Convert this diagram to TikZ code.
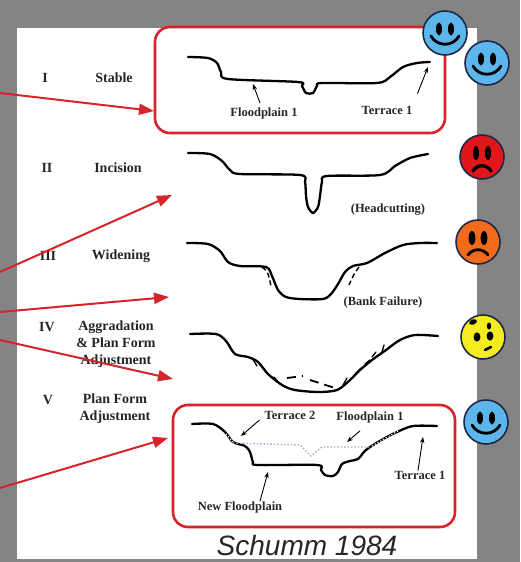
\documentclass[tikz,border=0pt]{standalone}
\usepackage{fontspec}
\setmainfont{Liberation Serif}
\newfontfamily\citefont{Liberation Sans}
\usetikzlibrary{arrows.meta}
\definecolor{frame}{RGB}{214,36,42}
\definecolor{bggray}{RGB}{132,132,132}
\definecolor{facerim}{RGB}{28,40,70}
\definecolor{skyblue}{RGB}{92,182,236}
\definecolor{angryred}{RGB}{224,22,27}
\definecolor{sadorange}{RGB}{242,107,29}
\definecolor{oddyellow}{RGB}{244,236,30}
\definecolor{oldbed}{RGB}{176,160,216}
\begin{document}
\begin{tikzpicture}[x=1pt, y=-1pt,
  redbox/.style={draw=frame, line width=2.6pt, rounded corners=15pt, inner sep=0pt},
  redarrow/.style={draw=frame, line width=2pt, -{Triangle[length=15pt,width=11pt]}},
  lbl/.style={font=\fontsize{14}{17}\selectfont\bfseries, text=black!85, align=center, inner sep=0pt},
  plbl/.style={font=\fontsize{12.5}{14}\selectfont\bfseries, text=black!85, inner sep=0pt},
  bank/.style={line width=2.3pt, line cap=round, line join=round},
  ptr/.style={line width=0.9pt, -{Stealth[length=6pt,width=4.5pt]}},
  face/.style={circle, draw=facerim, line width=1.6pt, minimum size=44pt, inner sep=0pt}]
\useasboundingbox (0,0) rectangle (520,562);
\fill[bggray] (0,0) rectangle (520,562);
\fill[white] (17,28) rectangle (477,559);

% stage names
\node[lbl] (n1) at (45,78) {I};
\node[lbl] (s1) at (114,78) {Stable};
\node[lbl] (n2) at (47,168) {II};
\node[lbl] (s2) at (118,168) {Incision};
\node[lbl] (n3) at (48,256) {III};
\node[lbl] (s3) at (121,256) {Widening};
\node[lbl] (n4) at (47,327) {IV};
\node[lbl, anchor=north] (s4) at (116,321) {Aggradation\\ \& Plan Form\\ Adjustment};
\node[lbl] (n5) at (48,400) {V};
\node[lbl, anchor=north] (s5) at (115,394) {Plan Form\\ Adjustment};

% highlighted stages
\node[redbox, minimum width=290pt, minimum height=106pt] (box1) at (300,80) {};
\node[redbox, minimum width=282pt, minimum height=122pt] (box5) at (314,466) {};

% I  stable
\draw[bank] plot[smooth, tension=0.5] coordinates {(188,57) (208,58) (217,63) (221,72) (228,79)
  (298,82) (302,86) (306,93) (313,93) (317,86) (322,83) (377,83) (390,77) (403,67) (417,63) (430,62)};
\node[plbl] (fp1) at (264,113) {Floodplain 1};
\node[plbl] (tr1) at (387,110) {Terrace 1};
\coordinate (p1) at (253,84);
\coordinate (p2) at (428,67);
\draw[ptr] ([shift={(-4pt,4pt)}]fp1.north) -- (p1);
\draw[ptr] ([shift={(5pt,12pt)}]tr1.north east) -- (p2);

% II  incision
\draw[bank] plot[smooth, tension=0.5] coordinates {(188,153) (210,154) (222,161) (230,170) (240,174)
  (300,175) (305,182) (306,196) (308,207) (313,213) (318,207) (320,196) (322,182) (327,176)
  (380,175) (395,166) (410,158) (428,154)};
\node[plbl] (hc) at (388,210) {(Headcutting)};

% III  widening
\draw[bank] plot[smooth, tension=0.5] coordinates {(187,243) (208,244) (220,251) (228,262) (240,266)
  (266,267) (272,276) (278,290) (286,297) (300,299) (323,299) (331,294) (338,284) (345,272)
  (353,266) (367,263) (385,253) (403,245) (420,243) (437,243)};
\draw[line width=1.4pt, dash pattern=on 5pt off 3pt] (262,267) .. controls (268,272) .. (271,286);
\draw[line width=1.4pt, dash pattern=on 5pt off 3pt] (359,267) .. controls (354,274) .. (349,285);
\node[plbl] (bf) at (383,302) {(Bank Failure)};

% IV  aggradation
\draw[bank] plot[smooth, tension=0.5] coordinates {(190,334) (216,334) (226,341) (235,354) (248,357)
  (258,362) (268,374) (282,385) (295,390) (318,392) (337,390) (350,380) (360,370) (372,360)
  (386,350) (400,340) (415,335) (438,336)};
\draw[line width=1.8pt, dash pattern=on 9pt off 6pt] (287,378) -- (303,376) (310,380) -- (338,389);
\foreach \xa/\ya/\xb/\yb in {252/358/257/366, 262/366/266/372, 274/377/279/383,
  283/386/288/388, 343/385/347/378, 355/374/361/368,
  365/364/370/360, 372/357/376/352, 382/352/384/345}
  \draw[line width=1.3pt, line cap=round] (\xa,\ya) -- (\xb,\yb);

% V  plan form adjustment
\draw[bank] plot[smooth, tension=0.5] coordinates {(192,424) (213,424) (225,432) (233,442) (245,446)
  (250,452) (253,462) (258,465) (317,465) (321,470) (325,475) (333,476) (338,472) (342,464)
  (350,461) (358,459) (364,452) (370,447) (385,438) (397,432) (413,426) (437,426)};
\draw[oldbed, line width=1.4pt, dotted] (233,443) -- (300,445) -- (306,451) -- (311,456)
  -- (317,451) -- (322,447) -- (370,447);
\draw[white, line width=1.2pt, dotted] (226,434) -- (233,442) (372,446) -- (398,431);
\node[plbl] (t2) at (290,415) {Terrace 2};
\node[plbl] (fp5) at (370,417) {Floodplain 1};
\node[plbl] (tr5) at (420,475) {Terrace 1};
\node[plbl] (nf) at (240,507) {New Floodplain};
\coordinate (p3) at (241,436);
\coordinate (p4) at (347,442);
\coordinate (p5) at (423,437);
\coordinate (p6) at (268,472);
\draw[ptr] ([shift={(-5pt,-5pt)}]t2.west) -- (p3);
\draw[ptr] ([shift={(-10pt,-8pt)}]fp5.south) -- (p4);
\draw[ptr] ([xshift=-2pt]tr5.north) -- (p5);
\draw[ptr] ([xshift=20pt]nf.north) -- (p6);

% red pointers from the left
\coordinate (a1) at (0,93);
\coordinate (a2) at (0,272);
\coordinate (a3) at (0,312);
\coordinate (a4) at (0,340);
\coordinate (a5) at (0,488);
\coordinate (e1) at (154,111);
\coordinate (e2) at (172,195);
\coordinate (e3) at (169,297);
\coordinate (e4) at (173,379);
\coordinate (e5) at (168,438);
\draw[redarrow] (a1) -- (e1);
\draw[redarrow] (a2) -- (e2);
\draw[redarrow] (a3) -- (e3);
\draw[redarrow] (a4) -- (e4);
\draw[redarrow] (a5) -- (e5);

% faces
\foreach \fx/\fy/\n in {445/33/f1, 487/63/f2, 486/422/f6}{
  \begin{scope}[shift={(\fx,\fy)}]
    \node[face, fill=skyblue] (\n) at (0,0) {};
    \fill (-6,-4) ellipse (3 and 6.5);
    \fill (6,-4) ellipse (3 and 6.5);
    \draw[line width=2.8pt, line cap=round] (-14,3) .. controls (-8,14) and (8,14) .. (14,3);
  \end{scope}
}
\begin{scope}[shift={(482,157)}]
  \node[face, fill=angryred] (f3) at (0,0) {};
  \fill (-6,-4) ellipse (3 and 7);
  \fill (6,-4) ellipse (3 and 7);
  \draw[line width=3.4pt, line cap=round] (-9,14) .. controls (-5,7) and (5,7) .. (9,14);
\end{scope}
\begin{scope}[shift={(478,242)}]
  \node[face, fill=sadorange] (f4) at (0,0) {};
  \fill (-6,-4) ellipse (3.4 and 7);
  \fill (6,-4) ellipse (3.4 and 7);
  \draw[line width=2.8pt, line cap=round] (-10,13) .. controls (-5,6) and (5,6) .. (10,13);
\end{scope}
\begin{scope}[shift={(483,337)}]
  \node[face, fill=oddyellow] (f5) at (0,0) {};
  \fill[rotate around={20:(-10,-15)}] (-10,-15) ellipse (4 and 2.6);
  \fill (6,-11) ellipse (2.2 and 3.5);
  \fill (-6,0) ellipse (3.4 and 4.6);
  \fill (7,-1) ellipse (3.4 and 4.6);
  \draw[line width=2.6pt, line cap=round] (2,13) -- (8,10);
\end{scope}

% reference
\fill[bggray] (0,559) rectangle (520,562);
\node[font=\citefont\itshape\fontsize{28}{30}\selectfont, text=black!85, anchor=base, inner sep=0pt] (cite) at (307,555) {Schumm 1984};
\end{tikzpicture}
\end{document}
